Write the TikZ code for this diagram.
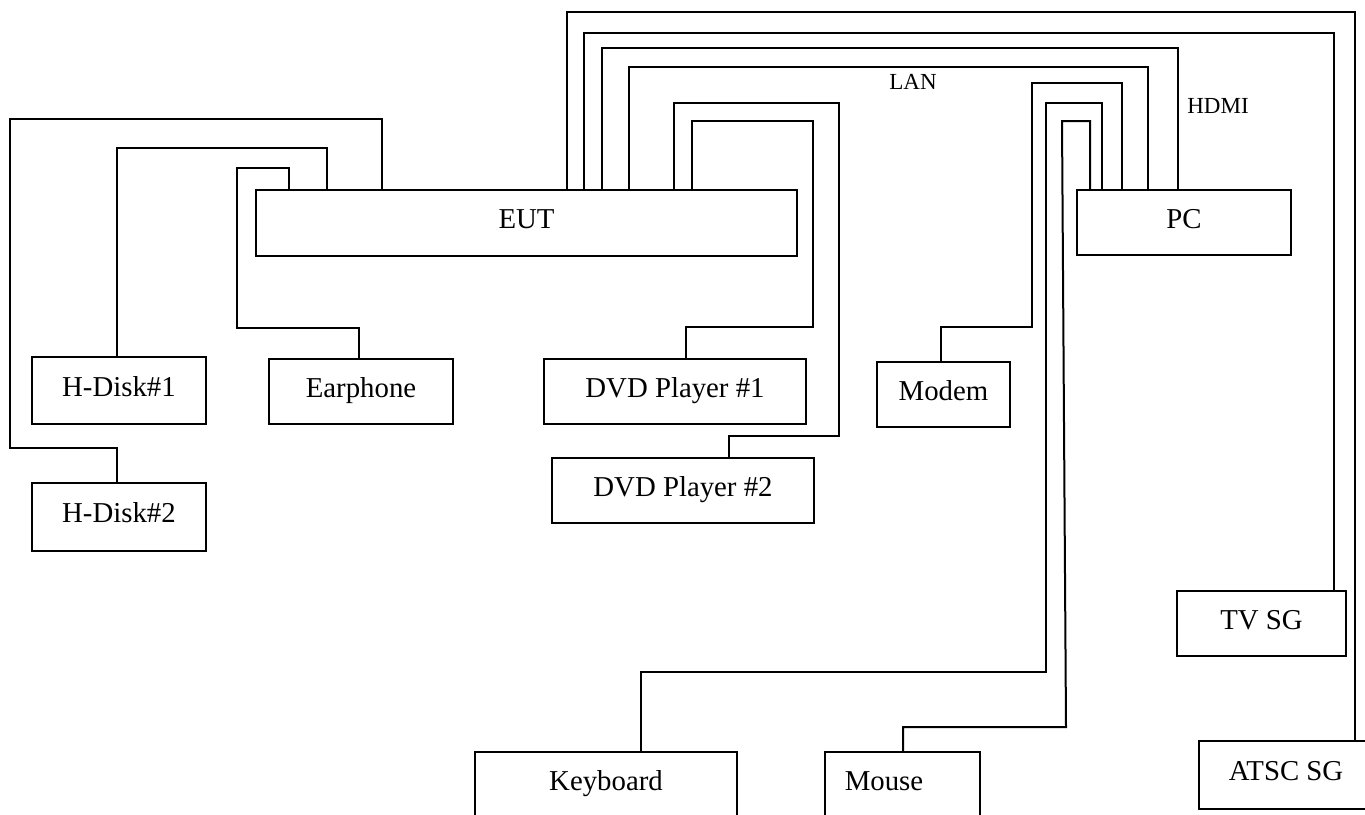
\documentclass[tikz,border=0pt]{standalone}
\usepackage{fontspec}
\setmainfont{Liberation Serif}
\begin{document}
\begin{tikzpicture}[x=0.5pt,y=-0.5pt,
  box/.style={draw,line width=1pt,rectangle,inner sep=0pt,font=\fontsize{14.4}{17}\selectfont,text height=1.6ex,text depth=0.3ex},
  wire/.style={line width=1pt,line join=miter},
  lbl/.style={font=\fontsize{11.5}{14}\selectfont,inner sep=0pt}]
\clip (0,0) rectangle (1365,814);
\fill[white] (0,0) rectangle (1365,814);
% boxes
\node[box,minimum width=270.5pt,minimum height=33pt] (EUT) at (526.5,223) {EUT};
\node[box,minimum width=107pt,minimum height=32.5pt] (PC) at (1184,222.5) {PC};
\node[box,minimum width=87pt,minimum height=33.5pt] (HD1) at (119,390.5) {H-Disk\#1};
\node[box,minimum width=87pt,minimum height=34pt] (HD2) at (119,517) {H-Disk\#2};
\node[box,minimum width=92pt,minimum height=32.5pt] (Ear) at (361,391.5) {Earphone};
\node[box,minimum width=131pt,minimum height=32.5pt] (DVD1) at (675,391.5) {DVD Player \#1};
\node[box,minimum width=131pt,minimum height=32.5pt] (DVD2) at (683,490.5) {DVD Player \#2};
\node[box,minimum width=66.5pt,minimum height=32.5pt] (Modem) at (943.5,394.5) {Modem};
\node[box,minimum width=84.5pt,minimum height=32.5pt] (TVSG) at (1261.5,623.5) {TV SG};
\node[box,minimum width=87pt,minimum height=34pt] (ATSC) at (1286,775) {ATSC SG};
\node[box,minimum width=131pt,minimum height=32.5pt] (KB) at (606,784.5) {Keyboard};
\node[box,minimum width=77.5pt,minimum height=32.5pt] (Mouse) at (902.5,784.5) {};
\node[box,draw=none] (MouseT) at (884,784.5) {Mouse};
% labels
\node[lbl] (LAN) at (913,82) {LAN};
\node[lbl] (HDMI) at (1218,106) {HDMI};
% wires from EUT
\draw[wire] (EUT.north -| 382,0) -- (382,119) -- (10,119) -- (10,448) -- (117,448) -- (HD2.north -| 117,0);
\draw[wire] (EUT.north -| 327,0) -- (327,148) -- (117,148) -- (HD1.north -| 117,0);
\draw[wire] (EUT.north -| 289,0) -- (289,168) -- (237,168) -- (237,328) -- (359,328) -- (Ear.north -| 359,0);
\draw[wire] (EUT.north -| 567,0) -- (567,12) -- (1355,12) -- (ATSC.north -| 1355,0);
\draw[wire] (EUT.north -| 584,0) -- (584,33) -- (1334,33) -- (TVSG.north -| 1334,0);
\draw[wire] (EUT.north -| 602,0) -- (602,48) -- (1178,48) -- (PC.north -| 1178,0);
\draw[wire] (EUT.north -| 629,0) -- (629,67) -- (1148,67) -- (PC.north -| 1148,0);
\draw[wire] (EUT.north -| 674,0) -- (674,103) -- (839,103) -- (839,436) -- (729,436) -- (DVD2.north -| 729,0);
\draw[wire] (EUT.north -| 692,0) -- (692,121) -- (813,121) -- (813,327) -- (686,327) -- (DVD1.north -| 686,0);
% wires from PC
\draw[wire] (PC.north -| 1122,0) -- (1122,83) -- (1032,83) -- (1032,327) -- (941,327) -- (Modem.north -| 941,0);
\draw[wire] (PC.north -| 1102,0) -- (1102,103) -- (1046,103) -- (1046,672) -- (641,672) -- (KB.north -| 641,0);
\draw[wire] (PC.north -| 1090,0) -- (1090,121) -- (1062,121) -- (1066,727) -- (903,727) -- (Mouse.north -| 903,0);
\end{tikzpicture}
\end{document}
